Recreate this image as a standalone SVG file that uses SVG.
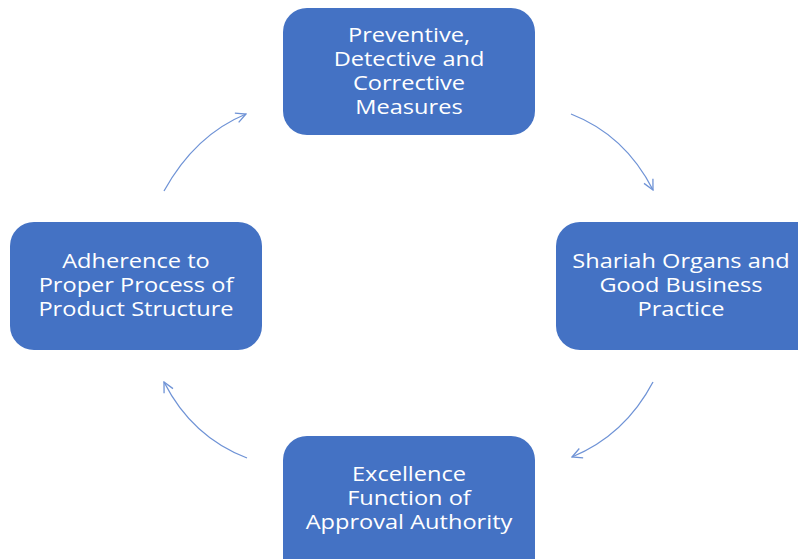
<svg xmlns="http://www.w3.org/2000/svg" width="798" height="559" viewBox="0 0 798 559">
<defs>
<style>
.box{fill:#4472C4;}
.lbl{fill:#ffffff;font-family:"Open Sans","Noto Sans",sans-serif;font-size:19.5px;text-anchor:middle;}
.arr{fill:none;stroke:#6f93d6;stroke-width:1.3;marker-end:url(#ah);}
</style>
<marker id="ah" viewBox="0 0 12 12" refX="11" refY="6" markerWidth="12" markerHeight="12" markerUnits="userSpaceOnUse" orient="auto">
<path d="M1,1 L11,6 L1,11" fill="none" stroke="#6f93d6" stroke-width="1.3"/>
</marker>
</defs>
<rect width="798" height="559" fill="#ffffff"/>
<g id="connectors">
<path class="arr" d="M164,191 Q195,135 246,114"/>
<path class="arr" d="M571,114 Q625,135 653,190"/>
<path class="arr" d="M653,382 Q625,435 572,457"/>
<path class="arr" d="M247,458 Q192,437 164,382"/>
</g>
<g id="node-top">
<rect class="box" x="283" y="8" width="252" height="127" rx="24"/>
<g transform="translate(409,0) scale(1.21,1)">
<text class="lbl" x="0" y="42">Preventive,</text>
<text class="lbl" x="0" y="66">Detective and</text>
<text class="lbl" x="0" y="90">Corrective</text>
<text class="lbl" x="0" y="114">Measures</text>
</g>
</g>
<g id="node-right">
<rect class="box" x="556" y="222" width="270" height="128" rx="24"/>
<g transform="translate(681,0) scale(1.21,1)">
<text class="lbl" x="0" y="268">Shariah Organs and</text>
<text class="lbl" x="0" y="292">Good Business</text>
<text class="lbl" x="0" y="316">Practice</text>
</g>
</g>
<g id="node-bottom">
<rect class="box" x="283" y="436" width="252" height="150" rx="24"/>
<g transform="translate(409,0) scale(1.21,1)">
<text class="lbl" x="0" y="481">Excellence</text>
<text class="lbl" x="0" y="505">Function of</text>
<text class="lbl" x="0" y="529">Approval Authority</text>
</g>
</g>
<g id="node-left">
<rect class="box" x="10" y="222" width="252" height="128" rx="24"/>
<g transform="translate(136,0) scale(1.21,1)">
<text class="lbl" x="0" y="268">Adherence to</text>
<text class="lbl" x="0" y="292">Proper Process of</text>
<text class="lbl" x="0" y="316">Product Structure</text>
</g>
</g>
</svg>
